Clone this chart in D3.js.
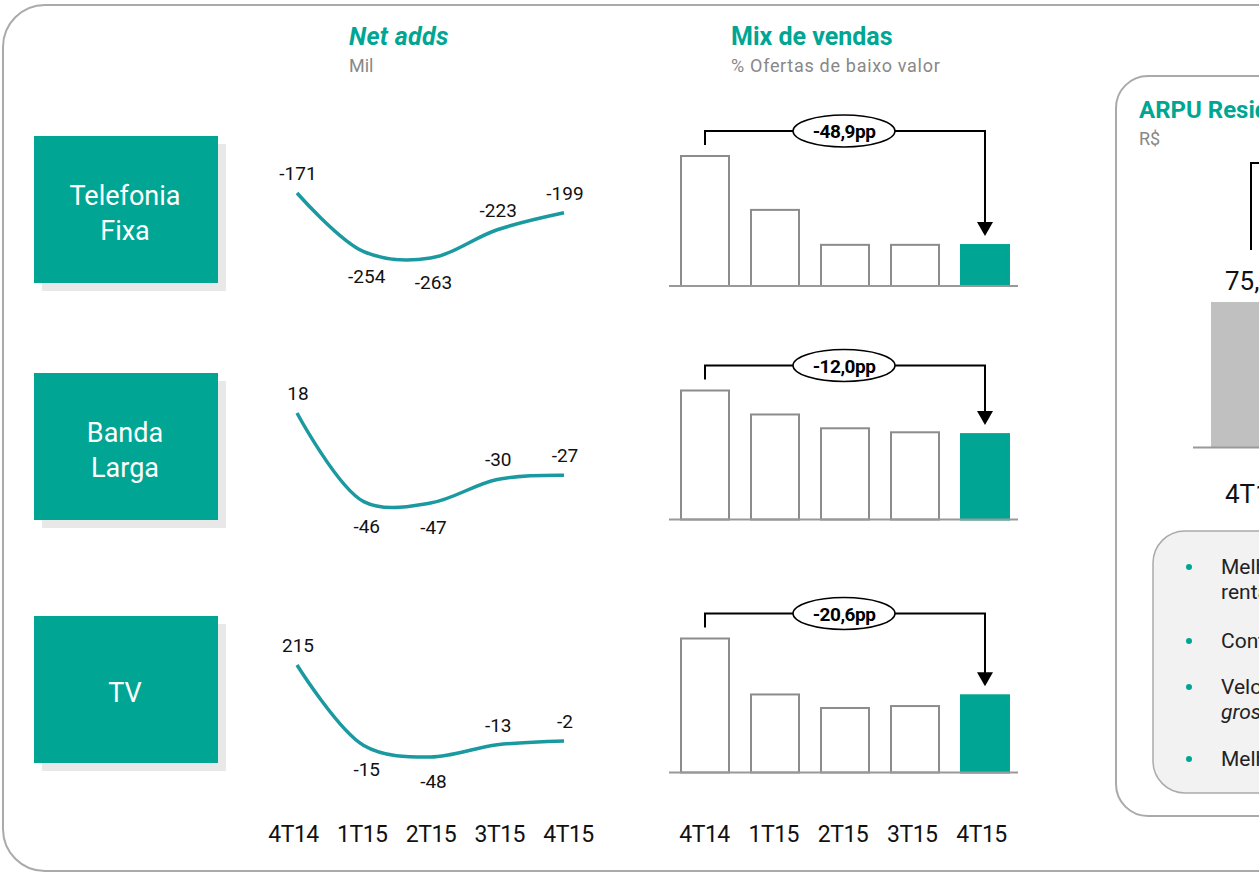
<!DOCTYPE html>
<html>
<head>
<meta charset="utf-8">
<script src="https://cdn.jsdelivr.net/npm/d3@7"></script>
<style>
    body { margin: 0; background: #fff; }
    svg text { font-family: Roboto, "Noto Sans", sans-serif; }
</style>
</head>
<body>
<div id="chart"></div>
<script>

// quarters (shared by both small-multiple columns)
var quarters = ["4T14", "1T15", "2T15", "3T15", "4T15"];

var segments = [["Telefonia", "Fixa"], ["Banda", "Larga"], ["TV"]];

// net adds, mil
var netAddsFixa = [-171, -254, -263, -223, -199];
var netAddsBanda = [18, -46, -47, -30, -27];
var netAddsTV = [215, -15, -48, -13, -2];

// % ofertas de baixo valor
var mixFixa = [71.4, 41.8, 22.6, 22.6, 22.5];
var mixBanda = [35.5, 28.9, 25.1, 24.0, 23.5];
var mixTV = [48.6, 28.3, 23.4, 24.1, 28.0];

var mixDeltas = ["-48,9pp", "-12,0pp", "-20,6pp"];

// ARPU residencial (only first bar visible)
var arpuQuarters = ["4T14", "4T15"];
var arpuValues = [75.4];
var arpuLabels = ["75,4"];

var bullets = [
    ["Melhoria do mix de vendas com foco em", "rentabilidade"],
    ["Controle de churn"],
    ["Velocidade média superior nas vendas", "gross adds"],
    ["Melhoria contínua do ARPU"]
];

var teal = "#00a693";
var lineTeal = "#1a9aa0";

var svg = d3.select("#chart").append("svg")
    .attr("width", 1259)
    .attr("height", 875);

// outer frame
svg.append("rect")
    .attr("x", 3).attr("y", 5)
    .attr("width", 1320).attr("height", 866)
    .attr("rx", 42)
    .style("fill", "none")
    .style("stroke", "#aaa")
    .style("stroke-width", 2);

// titles
svg.append("text").attr("x", 349).attr("y", 45)
    .style("font-size", "25px").style("font-weight", "bold").style("font-style", "italic")
    .style("letter-spacing", "0.3px")
    .style("fill", teal).text("Net adds");
svg.append("text").attr("x", 349).attr("y", 72)
    .style("font-size", "18px").style("fill", "#888").text("Mil");

svg.append("text").attr("x", 731).attr("y", 45)
    .style("font-size", "25px").style("font-weight", "bold")
    .style("fill", teal).text("Mix de vendas");
svg.append("text").attr("x", 731).attr("y", 72)
    .style("font-size", "18px").style("letter-spacing", "0.7px")
    .style("fill", "#888").text("% Ofertas de baixo valor");

var netRows = [netAddsFixa, netAddsBanda, netAddsTV];
var mixRows = [mixFixa, mixBanda, mixTV];

// row layout
var boxTop = [136, 373, 616];
var lineTop = [193, 413, 665];
var lineBottom = [258, 503, 757];
var barBase = [286, 519.5, 772.5];
var barMaxH = [130, 129, 134];
var labelBelow = [false, true, true, false, false];

var x = d3.scalePoint().domain(quarters).range([297, 564]);

var bx = d3.scaleBand().domain(quarters)
    .range([670, 1020])
    .paddingInner(0.2857)
    .paddingOuter(0.143);

segments.forEach(function (seg, r) {

    // segment box + shadow
    svg.append("rect")
        .attr("x", 42).attr("y", boxTop[r] + 8)
        .attr("width", 184).attr("height", 147)
        .style("fill", "#e8e8e8");
    svg.append("rect")
        .attr("x", 34).attr("y", boxTop[r])
        .attr("width", 184).attr("height", 147)
        .style("fill", teal);

    var first = seg.length == 1 ? 86 : 69;
    seg.forEach(function (t, i) {
        svg.append("text")
            .attr("x", 125).attr("y", boxTop[r] + first + i * 35)
            .style("text-anchor", "middle")
            .style("font-size", "27px")
            .style("fill", "#fff")
            .text(t);
    });

    // net adds line
    var values = netRows[r];
    var y = d3.scaleLinear()
        .domain(d3.extent(values))
        .range([lineBottom[r], lineTop[r]]);

    var line = d3.line()
        .x(function (d, i) { return x(quarters[i]); })
        .y(function (d) { return y(d); })
        .curve(d3.curveCatmullRom.alpha(0.5));

    svg.append("path")
        .datum(values)
        .attr("d", line)
        .style("fill", "none")
        .style("stroke", lineTeal)
        .style("stroke-width", 3.5);

    svg.selectAll(".lbl" + r)
        .data(values)
        .enter()
        .append("text")
        .attr("class", "lbl" + r)
        .attr("x", function (d, i) { return x(quarters[i]) + (labelBelow[i] ? 3 : 1); })
        .attr("y", function (d, i) { return labelBelow[i] ? y(d) + 31 : y(d) - 13; })
        .style("text-anchor", "middle")
        .style("font-size", "19px")
        .style("fill", "#111")
        .text(function (d) { return d; });

    // mix bars
    var mix = mixRows[r];
    var yb = d3.scaleLinear()
        .domain([0, d3.max(mix)])
        .range([barBase[r], barBase[r] - barMaxH[r]]);

    svg.selectAll(".bar" + r)
        .data(mix)
        .enter()
        .append("rect")
        .attr("class", "bar" + r)
        .attr("x", function (d, i) { return bx(quarters[i]) + 1; })
        .attr("y", function (d) { return yb(d); })
        .attr("width", bx.bandwidth() - 2)
        .attr("height", function (d) { return barBase[r] - yb(d); })
        .style("fill", function (d, i) { return i == mix.length - 1 ? teal : "#fff"; })
        .style("stroke", function (d, i) { return i == mix.length - 1 ? teal : "#8c8c8c"; })
        .style("stroke-width", 2);

    svg.append("line")
        .attr("x1", 669).attr("x2", 1018)
        .attr("y1", barBase[r]).attr("y2", barBase[r])
        .style("stroke", "#999")
        .style("stroke-width", 2);

    // delta bracket
    var xl = bx(quarters[0]) + bx.bandwidth() / 2;
    var xr = bx(quarters[4]) + bx.bandwidth() / 2;
    var yTop = yb(mix[0]) - 25;
    var tip = yb(mix[4]) - 9;

    svg.append("path")
        .attr("d", "M" + xl + "," + (yb(mix[0]) - 11) + "V" + yTop + "H" + xr + "V" + (tip - 12))
        .style("fill", "none")
        .style("stroke", "#000")
        .style("stroke-width", 2);
    svg.append("path")
        .attr("d", "M" + (xr - 8) + "," + (tip - 14) + "L" + (xr + 8) + "," + (tip - 14) + "L" + xr + "," + tip + "Z")
        .style("fill", "#000");

    var cx = (xl + xr) / 2 - 1;
    svg.append("ellipse")
        .attr("cx", cx).attr("cy", yTop)
        .attr("rx", 51).attr("ry", 16)
        .style("fill", "#fff")
        .style("stroke", "#000")
        .style("stroke-width", 1.5);
    svg.append("text")
        .attr("x", cx).attr("y", yTop + 7)
        .style("text-anchor", "middle")
        .style("font-size", "19px")
        .style("font-weight", "bold")
        .style("letter-spacing", "-0.5px")
        .style("fill", "#000")
        .text(mixDeltas[r]);
});

// bottom quarter labels
var xLab = d3.scalePoint().domain(quarters).range([293, 568]);
var axisLine = svg.append("g")
    .attr("transform", "translate(0,826)")
    .call(d3.axisBottom(xLab).tickSize(0).tickPadding(0));

var bxLab = d3.scalePoint().domain(quarters).range([704, 981]);
var axisBar = svg.append("g")
    .attr("transform", "translate(0,826)")
    .call(d3.axisBottom(bxLab).tickSize(0).tickPadding(0));

[axisLine, axisBar].forEach(function (g) {
    g.select(".domain").remove();
    g.selectAll("text")
        .style("font-size", "23px")
        .style("letter-spacing", "-0.5px")
        .style("fill", "#111");
});

// ARPU panel
svg.append("rect")
    .attr("x", 1116).attr("y", 76)
    .attr("width", 300).attr("height", 740)
    .attr("rx", 32)
    .style("fill", "none")
    .style("stroke", "#aaa")
    .style("stroke-width", 2);

svg.append("text").attr("x", 1139).attr("y", 118)
    .style("font-size", "24px").style("font-weight", "bold")
    .style("fill", teal).text("ARPU Residencial");
svg.append("text").attr("x", 1139).attr("y", 145)
    .style("font-size", "18px").style("fill", "#888").text("R$");

var ax = d3.scaleBand().domain(arpuQuarters)
    .range([1191, 1411])
    .paddingInner(0.2)
    .paddingOuter(0.2);
var ay = d3.scaleLinear().domain([0, d3.max(arpuValues)]).range([447, 302]);

svg.selectAll(".arpu")
    .data(arpuValues)
    .enter()
    .append("rect")
    .attr("class", "arpu")
    .attr("x", function (d, i) { return ax(arpuQuarters[i]); })
    .attr("y", function (d) { return ay(d); })
    .attr("width", ax.bandwidth())
    .attr("height", function (d) { return 447 - ay(d); })
    .style("fill", "#c0c0c0");

svg.selectAll(".arpuLbl")
    .data(arpuValues)
    .enter()
    .append("text")
    .attr("class", "arpuLbl")
    .attr("x", function (d, i) { return ax(arpuQuarters[i]) + 14; })
    .attr("y", function (d) { return ay(d) - 12; })
    .style("font-size", "26px")
    .style("fill", "#111")
    .text(function (d, i) { return arpuLabels[i]; });

var acx = ax(arpuQuarters[0]) + ax.bandwidth() / 2;
svg.append("path")
    .attr("d", "M" + acx + "," + (ay(arpuValues[0]) - 52) + "V163H1320")
    .style("fill", "none")
    .style("stroke", "#000")
    .style("stroke-width", 2);

svg.append("line")
    .attr("x1", 1193).attr("x2", 1320)
    .attr("y1", 447.5).attr("y2", 447.5)
    .style("stroke", "#999")
    .style("stroke-width", 2);

var axisArpu = svg.append("g")
    .attr("transform", "translate(14,485)")
    .call(d3.axisBottom(ax).tickSize(0).tickPadding(0));
axisArpu.select(".domain").remove();
axisArpu.selectAll("text").style("font-size", "26px").style("fill", "#111")
    .style("text-anchor", "start")
    .attr("x", -ax.bandwidth() / 2);

// bullets box
svg.append("rect")
    .attr("x", 1153).attr("y", 531)
    .attr("width", 300).attr("height", 262)
    .attr("rx", 32)
    .style("fill", "#f2f2f2")
    .style("stroke", "#aaa")
    .style("stroke-width", 1.5);

var bulletY = [574, 648, 694, 766];
bullets.forEach(function (b, i) {
    svg.append("circle")
        .attr("cx", 1189).attr("cy", bulletY[i] - 7)
        .attr("r", 3)
        .style("fill", teal);
    b.forEach(function (t, j) {
        svg.append("text")
            .attr("x", 1221).attr("y", bulletY[i] + j * 25)
            .style("font-size", "21px")
            .style("font-style", (i == 2 && j == 1) ? "italic" : "normal")
            .style("fill", "#222")
            .text(t);
    });
});

</script>
</body>
</html>
